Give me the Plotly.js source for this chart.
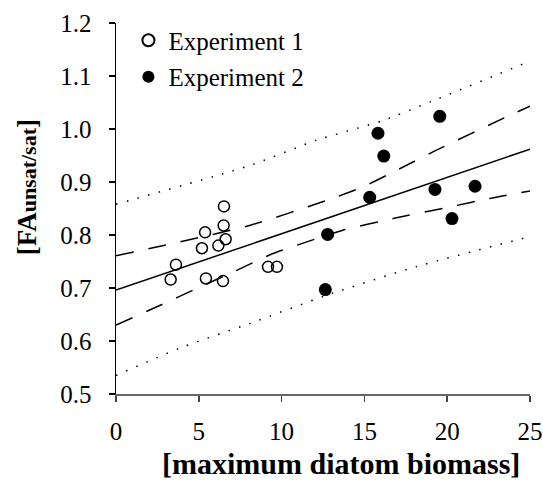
<!DOCTYPE html>
<html>
<head>
<meta charset="utf-8">
<script src="https://cdn.plot.ly/plotly-3.0.1.min.js"></script>
<style>html,body{margin:0;padding:0;background:#fff;}#chart{width:543px;height:481px;}</style>
</head>
<body>
<div id="chart"></div>
<script>
// Experiment 1 (open circles)
const exp1X = [3.30, 3.62, 5.43, 5.19, 5.38, 6.18, 6.46, 6.62, 6.50, 6.52, 9.18, 9.72];
const exp1Y = [0.716, 0.744, 0.718, 0.775, 0.805, 0.780, 0.713, 0.792, 0.818, 0.854, 0.740, 0.740];
// Experiment 2 (filled circles)
const exp2X = [19.55, 15.82, 16.17, 15.32, 19.26, 21.68, 20.29, 12.78, 12.64];
const exp2Y = [1.024, 0.992, 0.949, 0.871, 0.886, 0.892, 0.831, 0.801, 0.697];
// regression line
const fitX = [0, 25];
const fitY = [0.696, 0.962];
// confidence band (dashed)
const ciUpX = [0, 3.44, 8.07, 12.7, 14.92, 17.13, 19.35, 23.58, 25];
const ciUpY = [0.761, 0.784, 0.818, 0.865, 0.891, 0.925, 0.960, 1.023, 1.043];
const ciLoX = [0, 2.64, 4.86, 7.07, 9.48, 12.1, 13.7, 16.73, 20.15, 22.57, 25];
const ciLoY = [0.630, 0.667, 0.699, 0.730, 0.765, 0.793, 0.809, 0.831, 0.853, 0.869, 0.883];
// prediction band (dotted)
const piUpX = [0, 8.08, 11.09, 12.1, 16.12, 19.05, 25];
const piUpY = [0.858, 0.931, 0.967, 0.979, 1.016, 1.052, 1.128];
const piLoX = [0, 4.05, 8.08, 12.7, 18.1, 25];
const piLoY = [0.535, 0.589, 0.633, 0.686, 0.740, 0.797];
// ticks
const xTicks = [0, 5, 10, 15, 20, 25];
const yTicks = [0.5, 0.6, 0.7, 0.8, 0.9, 1.0, 1.1, 1.2];
const yTickText = ['0.5', '0.6', '0.7', '0.8', '0.9', '1.0', '1.1', '1.2'];
// axis titles
const xTitle = '[maximum diatom biomass]';
const yTitleMain = 'FA';
const yTitleSub = 'unsat/sat';

const serif = 'Liberation Serif, Times New Roman, serif';

const lineTrace = (x, y, dash, w) => ({
  x: x, y: y, type: 'scatter', mode: 'lines', showlegend: false, hoverinfo: 'skip',
  line: {color: '#000', width: w, dash: dash, shape: 'spline', smoothing: 0.6}
});

const traces = [
  lineTrace(piUpX, piUpY, '1.5px,9.5px', 1.5),
  lineTrace(piLoX, piLoY, '1.5px,9.5px', 1.5),
  lineTrace(ciUpX, ciUpY, '18px,15px', 1.5),
  lineTrace(ciLoX, ciLoY, '18px,15px', 1.5),
  lineTrace(fitX, fitY, 'solid', 1.5),
  {
    x: exp1X, y: exp1Y, type: 'scatter', mode: 'markers', name: 'Experiment 1',
    legendgroup: 'a',
    marker: {symbol: 'circle-open', size: 11, color: '#000', line: {width: 1.5, color: '#000'}}
  },
  {
    x: exp2X, y: exp2Y, type: 'scatter', mode: 'markers', name: 'Experiment 2',
    legendgroup: 'b',
    marker: {symbol: 'circle', size: 13, color: '#000'}
  }
];

const layout = {
  width: 543, height: 481,
  margin: {l: 116, r: 13, t: 23, b: 87, pad: 0},
  paper_bgcolor: '#fff', plot_bgcolor: '#fff',
  font: {family: serif, color: '#000', size: 25},
  showlegend: true,
  legend: {
    x: 0.03, y: 1.015, xanchor: 'left', yanchor: 'top',
    bgcolor: 'rgba(0,0,0,0)', borderwidth: 0,
    font: {family: serif, size: 25, color: '#000'},
    tracegroupgap: 1, itemsizing: 'constant', itemwidth: 30
  },
  xaxis: {
    range: [0, 25], tickmode: 'array', tickvals: xTicks, ticktext: xTicks.map(String),
    showgrid: false, zeroline: false, showline: true, linecolor: '#666', linewidth: 1.5,
    ticks: 'outside', ticklen: 6, tickwidth: 1.5, tickcolor: '#444',
    tickfont: {family: serif, size: 25, color: '#000'}, ticklabelstandoff: 8
  },
  yaxis: {
    range: [0.5, 1.2], tickmode: 'array', tickvals: yTicks, ticktext: yTickText,
    showgrid: false, zeroline: false, showline: true, linecolor: '#000', linewidth: 1.5,
    ticks: 'outside', ticklen: 6, tickwidth: 1.5, tickcolor: '#000',
    tickfont: {family: serif, size: 25, color: '#000'}, ticklabelstandoff: 12
  },
  annotations: [{
    text: '<b>[' + yTitleMain + '<span style="font-size:22px">' + yTitleSub + '</span>]</b>',
    textangle: -90, xref: 'paper', yref: 'paper', x: -0.215, y: 0.557,
    xanchor: 'center', yanchor: 'middle', showarrow: false,
    font: {family: serif, size: 27, color: '#000'}
  }, {
    text: '<b>' + xTitle + '</b>',
    xref: 'paper', yref: 'paper', x: 0.543, y: -0.188,
    xanchor: 'center', yanchor: 'middle', showarrow: false,
    font: {family: serif, size: 30, color: '#000'}
  }]
};

Plotly.newPlot('chart', traces, layout, {displayModeBar: false, staticPlot: true});
</script>
</body>
</html>
